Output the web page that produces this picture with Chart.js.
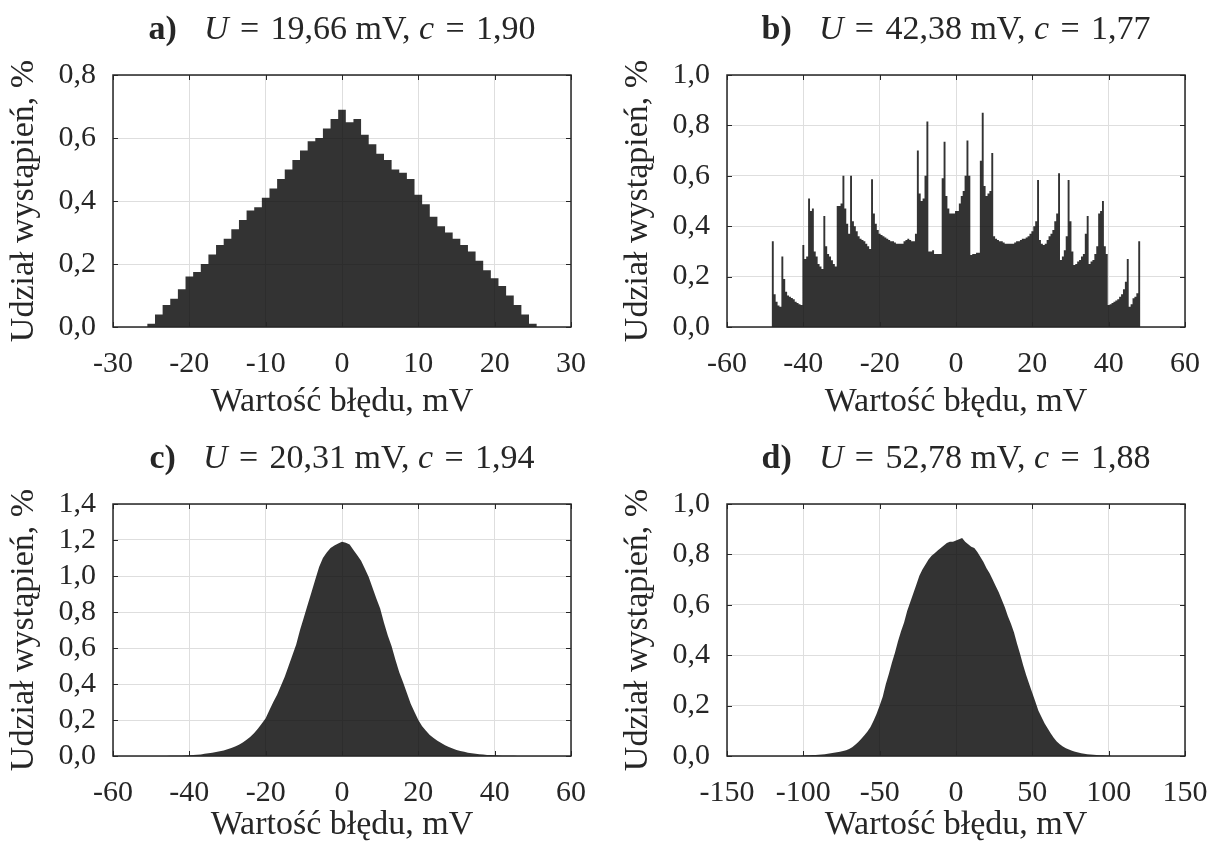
<!DOCTYPE html>
<html>
<head>
<meta charset="utf-8">
<title>Histogramy błędu</title>
<script src="https://cdn.jsdelivr.net/npm/chart.js@4.4.1/dist/chart.umd.min.js"></script>
<style>
  body { margin: 0; background: #fff; width: 1209px; height: 846px; overflow: hidden; position: relative; }
  .panel { position: absolute; width: 600px; height: 423px; }
</style>
</head>
<body>
<div class="panel" style="left:0;top:0"><canvas id="chartA"></canvas></div>
<div class="panel" style="left:614px;top:0"><canvas id="chartB"></canvas></div>
<div class="panel" style="left:0;top:429px"><canvas id="chartC"></canvas></div>
<div class="panel" style="left:614px;top:429px"><canvas id="chartD"></canvas></div>
<script>
// panel titles
const panelLabels = ["a)", "b)", "c)", "d)"];
const uValues = ["19,66", "42,38", "20,31", "52,78"];
const cValues = ["1,90", "1,77", "1,94", "1,88"];

// a) bins every 1 mV, first bin centre -26 mV
const aStart = -26, aStep = 1;
const aValues = [
    0, 0.01, 0.04, 0.07, 0.09, 0.12, 0.16, 0.175, 0.20, 0.23, 0.26,
    0.28, 0.31, 0.34, 0.37, 0.38, 0.41, 0.44, 0.47, 0.50, 0.53,
    0.56, 0.59, 0.60, 0.63, 0.66, 0.69, 0.65, 0.66, 0.61, 0.58,
    0.55, 0.53, 0.50, 0.49, 0.47, 0.42, 0.39, 0.35, 0.32, 0.30,
    0.28, 0.26, 0.24, 0.21, 0.18, 0.155, 0.13, 0.10, 0.07, 0.04,
    0.01, 0
];

// b) bins every 0.5 mV, first bin centre -48.5 mV
const bStart = -48.5, bStep = 0.5;
const bValues = [
    0,
    0.34, 0.13, 0.10, 0.085, 0.08, 0.28, 0.19, 0.14, 0.125, 0.12,
    0.115, 0.11, 0.10, 0.095, 0.09, 0.087, 0.325, 0.27, 0.28, 0.51,
    0.46, 0.47, 0.30, 0.28, 0.25, 0.24, 0.23, 0.44, 0.32, 0.29,
    0.28, 0.265, 0.25, 0.24, 0.48, 0.48, 0.49, 0.60, 0.47, 0.41,
    0.37, 0.60, 0.42, 0.40, 0.38, 0.36, 0.35, 0.345, 0.34, 0.33,
    0.32, 0.31, 0.586, 0.45, 0.41, 0.385, 0.37, 0.365, 0.36, 0.355,
    0.35, 0.345, 0.34, 0.34, 0.335, 0.33, 0.33, 0.33, 0.33, 0.34,
    0.345, 0.35, 0.345, 0.34, 0.34, 0.37, 0.70, 0.53, 0.50, 0.51,
    0.60, 0.815, 0.30, 0.30, 0.305, 0.29, 0.29, 0.29, 0.29, 0.59,
    0.735, 0.52, 0.47, 0.45, 0.45, 0.45, 0.46, 0.46, 0.49, 0.52,
    0.54, 0.60, 0.74, 0.60, 0.286, 0.29, 0.29, 0.295, 0.295, 0.66,
    0.85, 0.56, 0.52, 0.53, 0.54, 0.69, 0.36, 0.35, 0.345, 0.34,
    0.34, 0.335, 0.33, 0.33, 0.33, 0.33, 0.33, 0.335, 0.34, 0.34,
    0.345, 0.35, 0.35, 0.355, 0.36, 0.37, 0.38, 0.40, 0.42, 0.583,
    0.345, 0.33, 0.325, 0.33, 0.345, 0.36, 0.37, 0.385, 0.42, 0.45,
    0.61, 0.266, 0.28, 0.305, 0.36, 0.583, 0.42, 0.30, 0.246, 0.25,
    0.26, 0.266, 0.28, 0.29, 0.37, 0.44, 0.25, 0.26, 0.266, 0.29,
    0.32, 0.45, 0.46, 0.50, 0.32, 0.29, 0.087, 0.09, 0.095, 0.10,
    0.105, 0.11, 0.12, 0.13, 0.15, 0.18, 0.27, 0.08, 0.09, 0.114,
    0.12, 0.134, 0.34,
    0
];

// c) bins every 1 mV, first bin centre -46 mV
const cStart = -46, cStep = 1;
const cHistValues = [
    0,
    0.001, 0.001, 0.002, 0.002, 0.003, 0.004, 0.005, 0.007, 0.009, 0.012,
    0.015, 0.018, 0.022, 0.026, 0.031, 0.037, 0.044, 0.053, 0.063, 0.075,
    0.09, 0.107, 0.128, 0.153, 0.18, 0.21, 0.255, 0.30, 0.34, 0.39,
    0.44, 0.50, 0.56, 0.62, 0.70, 0.77, 0.84, 0.91, 0.98, 1.05,
    1.10, 1.13, 1.155, 1.17, 1.18, 1.19, 1.185, 1.175, 1.145, 1.115,
    1.085, 1.04, 0.995, 0.935, 0.875, 0.82, 0.74, 0.67, 0.61, 0.535,
    0.465, 0.41, 0.35, 0.29, 0.245, 0.20, 0.165, 0.14, 0.117, 0.10,
    0.085, 0.072, 0.06, 0.05, 0.042, 0.034, 0.028, 0.023, 0.018, 0.015,
    0.012, 0.01, 0.008, 0.006, 0.005, 0.004, 0.003, 0.002, 0.002, 0.001,
    0.001,
    0
];

// d) bins every 2 mV, first bin centre -102 mV
const dStart = -102, dStep = 2;
const dValues = [
    0,
    0.002, 0.003, 0.003, 0.004, 0.004, 0.005, 0.006, 0.007, 0.009, 0.011,
    0.013, 0.015, 0.017, 0.020, 0.023, 0.028, 0.035, 0.045, 0.056, 0.068,
    0.082, 0.097, 0.115, 0.14, 0.168, 0.20, 0.235, 0.285, 0.325, 0.37,
    0.41, 0.455, 0.495, 0.53, 0.575, 0.61, 0.645, 0.68, 0.715, 0.74,
    0.76, 0.78, 0.795, 0.805, 0.815, 0.825, 0.835, 0.845, 0.85, 0.85,
    0.855, 0.86, 0.865, 0.85, 0.84, 0.83, 0.825, 0.81, 0.79, 0.77,
    0.745, 0.725, 0.70, 0.675, 0.65, 0.62, 0.59, 0.555, 0.525, 0.49,
    0.445, 0.405, 0.36, 0.32, 0.285, 0.25, 0.215, 0.18, 0.155, 0.13,
    0.11, 0.09, 0.072, 0.058, 0.047, 0.038, 0.031, 0.026, 0.021, 0.017,
    0.014, 0.011, 0.009, 0.007, 0.006, 0.005, 0.004, 0.003, 0.003, 0.002,
    0.002,
    0
];

const xLimits = [[-30, 30, 10], [-60, 60, 20], [-60, 60, 20], [-150, 150, 50]];
const yLimits = [[0, 0.8], [0, 1.0], [0, 1.4], [0, 1.0]];

const serif = '"Liberation Serif", "Times New Roman", serif';
const textColor = "#262626";
Chart.defaults.font.family = serif;
Chart.defaults.color = textColor;

function frameAndTitle(label, u, c) {
    return {
        id: "frameAndTitle",
        afterDatasetsDraw(chart) {
            const ctx = chart.ctx;
            const area = chart.chartArea;
            const xs = chart.scales.x;
            const ys = chart.scales.y;
            const len = 5;
            ctx.save();
            ctx.strokeStyle = textColor;
            ctx.lineWidth = 1;
            ctx.beginPath();
            xs.ticks.forEach((t) => {
                const px = Math.round(xs.getPixelForValue(t.value)) + 0.5;
                ctx.moveTo(px, area.bottom);
                ctx.lineTo(px, area.bottom - len);
                ctx.moveTo(px, area.top);
                ctx.lineTo(px, area.top + len);
            });
            ys.ticks.forEach((t) => {
                const py = Math.round(ys.getPixelForValue(t.value)) + 0.5;
                ctx.moveTo(area.left, py);
                ctx.lineTo(area.left + len, py);
                ctx.moveTo(area.right, py);
                ctx.lineTo(area.right - len, py);
            });
            ctx.stroke();
            ctx.lineWidth = 1.5;
            ctx.strokeRect(area.left, area.top, area.right - area.left, area.bottom - area.top);
            ctx.restore();
        },
        afterDraw(chart) {
            const ctx = chart.ctx;
            const area = chart.chartArea;
            const size = 34;
            const eq = "\u2004=\u2004";
            const parts = [
                { text: label, font: "bold " + size + "px " + serif, gap: 0.8 * size },
                { text: "U", font: "italic " + size + "px " + serif, gap: 0 },
                { text: eq + u + " mV, ", font: size + "px " + serif, gap: 0 },
                { text: "c", font: "italic " + size + "px " + serif, gap: 0 },
                { text: eq + c, font: size + "px " + serif, gap: 0 },
            ];
            ctx.save();
            let total = 0;
            parts.forEach((p) => {
                ctx.font = p.font;
                p.w = ctx.measureText(p.text).width;
                total += p.w + p.gap;
            });
            let x = (area.left + area.right) / 2 - total / 2;
            const y = area.top - 45;
            ctx.fillStyle = textColor;
            ctx.textBaseline = "middle";
            ctx.textAlign = "left";
            parts.forEach((p) => {
                ctx.font = p.font;
                ctx.fillText(p.text, x, y);
                x += p.w + p.gap;
            });
            ctx.restore();
        },
    };
}

function makeChart(id, index, start, step, values, xTitlePad, stepped) {
    const points = values.map((v, i) => ({ x: start + i * step, y: v }));
    const xl = xLimits[index];
    const yl = yLimits[index];
    return new Chart(document.getElementById(id), {
        type: "line",
        data: {
            datasets: [
                {
                    data: points,
                    stepped: stepped,
                    fill: "origin",
                    backgroundColor: "rgba(0, 0, 0, 0.8)",
                    borderColor: "rgba(0, 0, 0, 0)",
                    borderWidth: 0,
                    pointRadius: 0,
                },
            ],
        },
        options: {
            responsive: true,
            maintainAspectRatio: false,
            animation: false,
            events: [],
            layout: { padding: { left: 0, top: 75, right: 29, bottom: 0 } },
            plugins: {
                legend: { display: false },
                tooltip: { enabled: false },
            },
            scales: {
                x: {
                    type: "linear",
                    min: xl[0],
                    max: xl[1],
                    ticks: {
                        stepSize: xl[2],
                        autoSkip: false,
                        maxRotation: 0,
                        padding: 19,
                        font: { size: 30 },
                        color: textColor,
                        callback: (v) => String(v),
                    },
                    grid: { color: "#dedede", drawTicks: false },
                    border: { display: false },
                    title: {
                        display: true,
                        text: "Wartość błędu, mV",
                        font: { size: 34 },
                        color: textColor,
                        padding: { top: 0, bottom: xTitlePad },
                    },
                    afterFit: (scale) => {
                        scale.height = 96;
                        scale.paddingLeft = 0;
                        scale.paddingRight = 0;
                    },
                },
                y: {
                    min: yl[0],
                    max: yl[1],
                    ticks: {
                        stepSize: 0.2,
                        autoSkip: false,
                        padding: 17,
                        font: { size: 30 },
                        color: textColor,
                        callback: (v) => v.toFixed(1).replace(".", ","),
                    },
                    grid: { color: "#dedede", drawTicks: false },
                    border: { display: false },
                    title: {
                        display: true,
                        text: "Udział wystąpień, %",
                        font: { size: 34 },
                        color: textColor,
                        padding: { top: 4, bottom: 0 },
                    },
                    afterFit: (scale) => {
                        scale.width = 113;
                        scale.paddingTop = 0;
                        scale.paddingBottom = 0;
                    },
                },
            },
        },
        plugins: [frameAndTitle(panelLabels[index], uValues[index], cValues[index])],
    });
}

makeChart("chartA", 0, aStart, aStep, aValues, 1, "middle");
makeChart("chartB", 1, bStart, bStep, bValues, 1, "middle");
makeChart("chartC", 2, cStart, cStep, cHistValues, 7, false);
makeChart("chartD", 3, dStart, dStep, dValues, 7, false);
</script>
</body>
</html>
